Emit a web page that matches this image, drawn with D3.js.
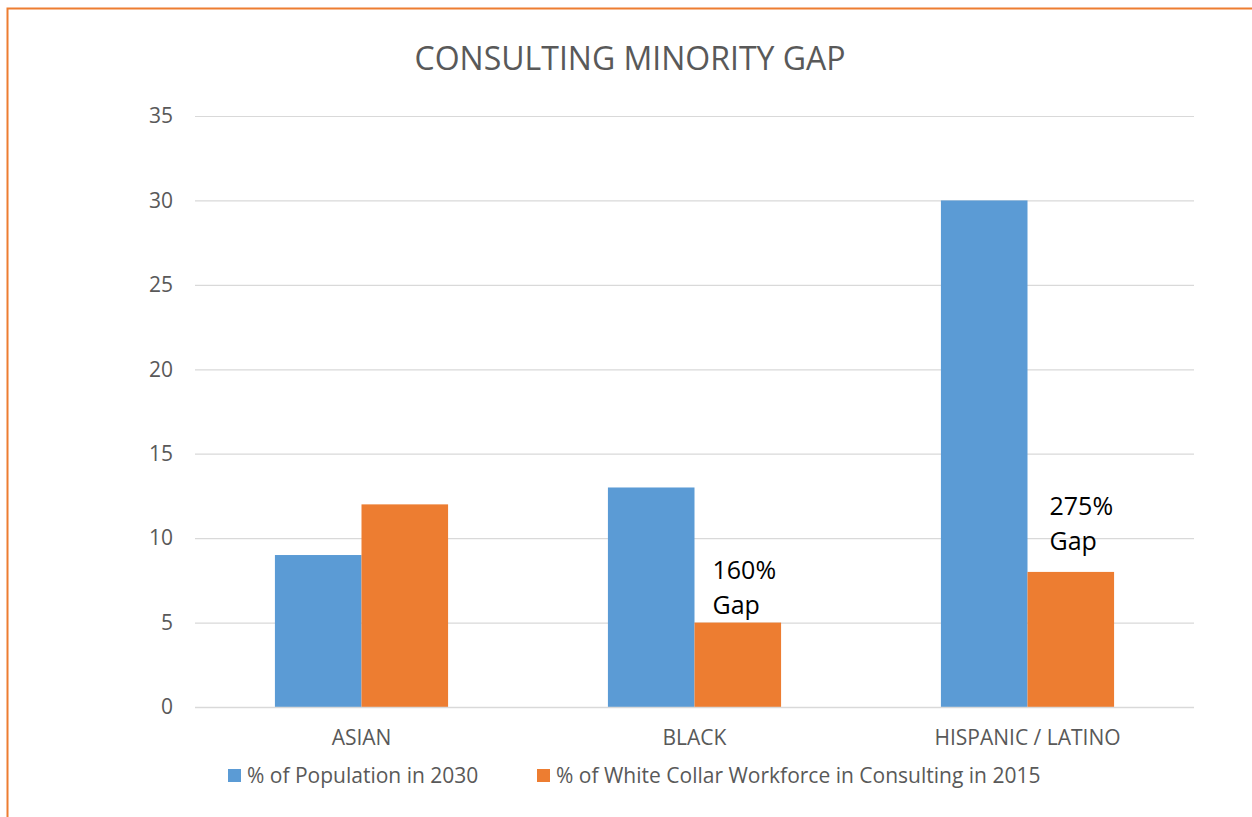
<!DOCTYPE html>
<html>
<head>
<meta charset="utf-8">
<script src="https://cdn.jsdelivr.net/npm/d3@7"></script>
<style>
  html, body { margin: 0; padding: 0; background: #fff; }
  svg { display: block; }
</style>
</head>
<body>
<svg id="chart" width="1252" height="817"></svg>
<script>
// Chart data
const categories = ["ASIAN", "BLACK", "HISPANIC / LATINO"];
const seriesNames = ["% of Population in 2030", "% of White Collar Workforce in Consulting in 2015"];
const population2030 = [9, 13, 30];
const consulting2015 = [12, 5, 8];
const yTicks = [0, 5, 10, 15, 20, 25, 30, 35];
const gapCategories = ["BLACK", "HISPANIC / LATINO"];
const gapTexts = [["160%", "Gap"], ["275%", "Gap"]];

const colors = ["#5B9BD5", "#ED7D31"];
const textGray = "#595959";
const font = "'Open Sans', 'Liberation Sans', sans-serif";

// Hand-placed offsets for the gap labels (relative to the consulting bar top-left)
const gapLabelOffsets = [{ dx: 18, dy: -44 }, { dx: 22, dy: -57 }];

const svg = d3.select("#chart");
const W = 1252, H = 817;

// Outer frame
svg.append("rect")
  .attr("x", 7.5).attr("y", 8.5)
  .attr("width", W + 20).attr("height", H + 20)
  .attr("fill", "#fff")
  .attr("stroke", "#ED7D31").attr("stroke-width", 2);

const plot = { left: 195, right: 1194, top: 116, bottom: 707 };

const x = d3.scaleBand()
  .domain(categories)
  .range([plot.left, plot.right])
  .paddingInner(0.48)
  .paddingOuter(0.24);

const xSeries = d3.scaleBand()
  .domain(d3.range(seriesNames.length))
  .range([0, x.bandwidth()]);

const y = d3.scaleLinear().domain([0, 35]).range([plot.bottom, plot.top]);

// Title
svg.append("text")
  .attr("x", 630).attr("y", 70)
  .attr("text-anchor", "middle")
  .attr("font-family", font)
  .attr("font-size", 32)
  .attr("fill", textGray)
  .text("CONSULTING MINORITY GAP");

// Gridlines and value axis
const yAxis = d3.axisLeft(y)
  .tickValues(yTicks)
  .tickSize(-(plot.right - plot.left))
  .tickPadding(22)
  .tickFormat(d3.format("d"));

const gy = svg.append("g")
  .attr("transform", `translate(${plot.left},0)`)
  .call(yAxis);
gy.select(".domain").remove();
gy.selectAll(".tick line").attr("stroke", "#d9d9d9").attr("stroke-width", 1.2);
gy.selectAll(".tick text")
  .attr("font-family", font)
  .attr("font-size", 21)
  .attr("fill", textGray);

// Bars
const seriesData = [population2030, consulting2015];
const groups = svg.append("g").selectAll("g")
  .data(categories)
  .join("g")
  .attr("transform", d => `translate(${x(d)},0)`);

groups.selectAll("rect")
  .data((d, i) => seriesData.map((s, k) => ({ k, v: s[i] })))
  .join("rect")
  .attr("x", d => xSeries(d.k))
  .attr("width", xSeries.bandwidth())
  .attr("y", d => y(d.v))
  .attr("height", d => y(0) - y(d.v))
  .attr("fill", d => colors[d.k]);

// Baseline
svg.append("line")
  .attr("x1", plot.left).attr("x2", plot.right)
  .attr("y1", y(0) + 0.5).attr("y2", y(0) + 0.5)
  .attr("stroke", "#d9d9d9").attr("stroke-width", 1.5);

// Category axis
const xAxis = d3.axisBottom(x).tickSize(0).tickPadding(23);
const gx = svg.append("g")
  .attr("transform", `translate(0,${plot.bottom})`)
  .call(xAxis);
gx.select(".domain").remove();
gx.selectAll(".tick text")
  .attr("font-family", font)
  .attr("font-size", 21)
  .attr("fill", textGray);

// Gap annotations beside the consulting bars
gapCategories.forEach((cat, n) => {
  const i = categories.indexOf(cat);
  const off = gapLabelOffsets[n];
  const x0 = x(cat) + xSeries(1) + off.dx;
  const yBar = y(consulting2015[i]);
  gapTexts[n].forEach((line, j) => {
    svg.append("text")
      .attr("x", x0)
      .attr("y", yBar + off.dy + j * 35)
      .attr("font-family", font)
      .attr("font-size", 25)
      .attr("fill", "#000")
      .text(line);
  });
});

// Legend
const legendX = [228, 537];
const legend = svg.append("g");
seriesNames.forEach((name, k) => {
  legend.append("rect")
    .attr("x", legendX[k]).attr("y", 769)
    .attr("width", 13).attr("height", 13)
    .attr("fill", colors[k]);
  legend.append("text")
    .attr("x", legendX[k] + 19).attr("y", 783)
    .attr("font-family", font)
    .attr("font-size", 21)
    .attr("fill", textGray)
    .text(name);
});
</script>
</body>
</html>
